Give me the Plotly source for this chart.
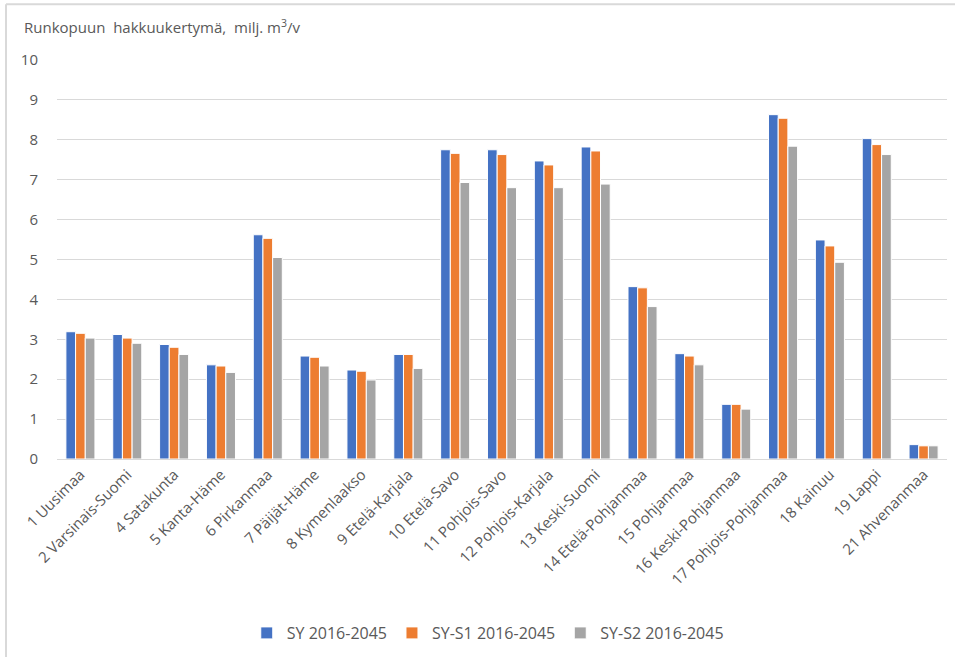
import plotly.graph_objects as go

categories = ["1 Uusimaa", "2 Varsinais-Suomi", "4 Satakunta", "5 Kanta-Häme", "6 Pirkanmaa",
              "7 Päijät-Häme", "8 Kymenlaakso", "9 Etelä-Karjala", "10 Etelä-Savo", "11 Pohjois-Savo",
              "12 Pohjois-Karjala", "13 Keski-Suomi", "14 Etelä-Pohjanmaa", "15 Pohjanmaa",
              "16 Keski-Pohjanmaa", "17 Pohjois-Pohjanmaa", "18 Kainuu", "19 Lappi", "21 Ahvenanmaa"]

sy = [3.19, 3.12, 2.87, 2.36, 5.62, 2.58, 2.23, 2.62, 7.75, 7.75, 7.47, 7.82, 4.32, 2.64, 1.37, 8.63, 5.49, 8.03, 0.36]
sy_s1 = [3.15, 3.03, 2.80, 2.33, 5.53, 2.55, 2.20, 2.62, 7.66, 7.63, 7.37, 7.72, 4.29, 2.58, 1.37, 8.54, 5.34, 7.88, 0.33]
sy_s2 = [3.03, 2.90, 2.62, 2.17, 5.05, 2.33, 1.98, 2.27, 6.93, 6.80, 6.80, 6.89, 3.82, 2.36, 1.25, 7.84, 4.93, 7.63, 0.33]

series_names = ["SY 2016-2045", "SY-S1 2016-2045", "SY-S2 2016-2045"]
colors = ["#4472C4", "#ED7D31", "#A5A5A5"]
y_ticks = list(range(0, 11))

fig = go.Figure()
for name, vals, col in zip(series_names, [sy, sy_s1, sy_s2], colors):
    fig.add_trace(go.Bar(x=categories, y=vals, name=name,
                         marker=dict(color=col, line=dict(color="white", width=1))))

font_fam = "Open Sans, Noto Sans, sans-serif"
txt_col = "#595959"

fig.update_layout(
    width=955, height=657,
    margin=dict(l=57, r=8, t=60, b=197),
    paper_bgcolor="white", plot_bgcolor="white",
    barmode="group", bargap=0.38, bargroupgap=0.0,
    font=dict(family=font_fam, size=15, color=txt_col),
    showlegend=True,
    legend=dict(orientation="h", x=0.484, xanchor="center", y=-0.39, yanchor="top",
                font=dict(size=16, color=txt_col), traceorder="normal"),
    xaxis=dict(tickangle=-45, tickfont=dict(size=15, color=txt_col), showgrid=False,
               showline=True, linecolor="#d9d9d9", linewidth=1, ticks=""),
    yaxis=dict(range=[0, 10], tickvals=y_ticks, tickfont=dict(size=15, color=txt_col),
               showgrid=True, gridcolor="#d9d9d9", gridwidth=1, zeroline=False,
               ticklabelstandoff=18),
    annotations=[dict(text="Runkopuun  hakkuukertymä,  milj. m<sup>3</sup>/v",
                      xref="paper", yref="paper", x=-0.039, y=1.083,
                      xanchor="left", yanchor="middle", showarrow=False,
                      font=dict(size=15, color=txt_col))],
    shapes=[
        dict(type="line", xref="paper", yref="paper", x0=-0.0573, x1=-0.0573, y0=-0.55, y1=1.14,
             line=dict(color="#d9d9d9", width=2)),
        dict(type="line", xref="paper", yref="paper", x0=-0.0573, x1=1.02, y0=1.14, y1=1.14,
             line=dict(color="#d9d9d9", width=2)),
    ],
)

fig.write_html("out.html")
